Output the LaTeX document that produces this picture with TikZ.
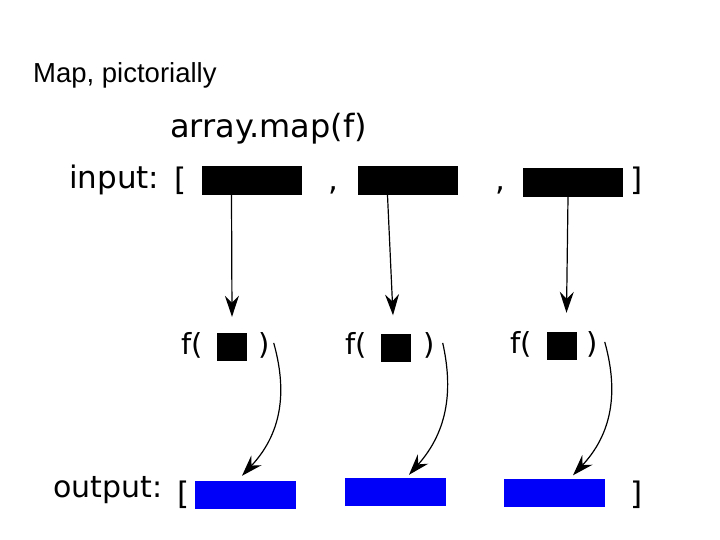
\documentclass[tikz,border=0pt]{standalone}
\usepackage{fontspec}
\setmainfont{DejaVu Sans}
\newfontfamily\titlefont{Liberation Sans}
\usetikzlibrary{arrows.meta}
\definecolor{outblue}{RGB}{0,0,250}
\tikzset{
  txt/.style={inner sep=0pt, anchor=base west, font=\fontsize{31}{37}\selectfont},
  ftxt/.style={inner sep=0pt, anchor=base west, font=\fontsize{29}{35}\selectfont},
  inbox/.style={fill=black, inner sep=0pt, minimum width=100pt, minimum height=29pt},
  sqbox/.style={fill=black, inner sep=0pt, minimum width=30pt, minimum height=28pt},
  outbox/.style={fill=outblue, inner sep=0pt, minimum width=101pt, minimum height=28pt},
  conn/.style={line width=1.2pt, -{Stealth[length=21pt, width=14pt, inset=7pt]}}
}
\begin{document}
\begin{tikzpicture}[x=1pt, y=-1pt]
\useasboundingbox (0,0) rectangle (720,540);
% title
\node[inner sep=0pt, anchor=base west, font=\titlefont\fontsize{27.5}{32}\selectfont] (title) at (33,83) {Map, pictorially};
\node[inner sep=0pt, anchor=base west, font=\fontsize{32}{38}\selectfont] (call) at (170,138) {array.map(f)};
% input row
\node[txt] (inlbl) at (69,189) {input:};
\node[txt] (inlb) at (174,191) {[};
\node[inbox] (i1) at (251.5,180.5) {};
\node[txt] (c1) at (328,191) {,};
\node[inbox] (i2) at (407.5,180.5) {};
\node[txt] (c2) at (495,191) {,};
\node[inbox] (i3) at (572.5,182.5) {};
\node[txt] (inrb) at (630,191) {]};
% function row
\node[ftxt] (f1) at (181,354) {f(};
\node[sqbox] (s1) at (232,347) {};
\node[ftxt] (p1) at (258,354) {)};
\node[ftxt] (f2) at (345,354) {f(};
\node[sqbox] (s2) at (396,347.5) {};
\node[ftxt] (p2) at (423,354) {)};
\node[ftxt] (f3) at (510,353) {f(};
\node[sqbox] (s3) at (561.5,346) {};
\node[ftxt] (p3) at (586,353) {)};
% output row
\node[inner sep=0pt, anchor=base west, font=\fontsize{30}{36}\selectfont] (outlbl) at (53,497) {output:};
\node[txt] (outlb) at (177,504) {[};
\node[outbox] (b1) at (245.5,495) {};
\node[outbox] (b2) at (395.5,492) {};
\node[outbox] (b3) at (554.5,492.5) {};
\node[txt] (outrb) at (630,504) {]};
% straight arrows
\draw[conn] ([xshift=-20pt]i1.south) -- ([xshift=0pt,yshift=16pt]s1.north);
\draw[conn] ([xshift=-20pt]i2.south) -- ([xshift=-3pt,yshift=18pt]s2.north);
\draw[conn] ([xshift=-4.5pt]i3.south) -- ([xshift=5pt,yshift=19pt]s3.north);
% curved arrows
\draw[conn] ([xshift=4pt,yshift=2pt]p1.east) .. controls +(12,43) and +(43,-46) .. ([xshift=-3.5pt,yshift=5pt]b1.north);
\draw[conn] ([xshift=8pt,yshift=2pt]p2.east) .. controls +(10,45) and +(40,-45) .. ([xshift=13.5pt,yshift=3pt]b2.north);
\draw[conn] ([xshift=7pt,yshift=2pt]p3.east) .. controls +(12,43) and +(43,-46) .. ([xshift=18.5pt,yshift=3pt]b3.north);
\end{tikzpicture}
\end{document}
